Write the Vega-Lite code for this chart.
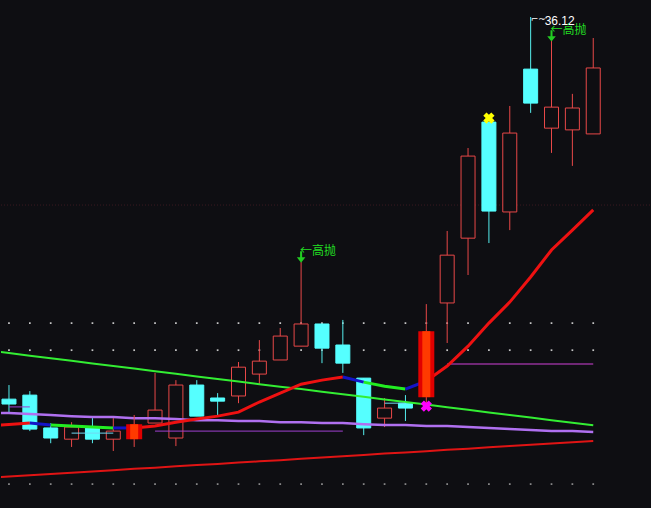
{
  "$schema": "https://vega.github.io/schema/vega-lite/v6.json",
  "width": 651,
  "height": 508,
  "autosize": {"type": "fit", "contains": "padding"},
  "padding": 0,
  "background": "#0e0e12",
  "config": {"view": {"stroke": null}},
  "resolve": {"scale": {"color": "independent", "fill": "independent", "stroke": "independent"}},
  "datasets": {
    "candles": [
      {"i": 0, "o": 22.85, "h": 23.34, "l": 22.37, "c": 22.68, "k": "down"},
      {"i": 1, "o": 22.99, "h": 23.13, "l": 21.74, "c": 21.81, "k": "down"},
      {"i": 2, "o": 21.85, "h": 22.02, "l": 21.32, "c": 21.50, "k": "down"},
      {"i": 3, "o": 21.46, "h": 22.05, "l": 21.19, "c": 21.88, "k": "up"},
      {"i": 4, "o": 21.85, "h": 22.19, "l": 21.32, "c": 21.46, "k": "down"},
      {"i": 5, "o": 21.46, "h": 22.19, "l": 21.05, "c": 21.74, "k": "up"},
      {"i": 6, "o": 21.46, "h": 22.30, "l": 21.19, "c": 21.98, "k": "solid"},
      {"i": 7, "o": 22.02, "h": 23.76, "l": 22.02, "c": 22.47, "k": "up"},
      {"i": 8, "o": 21.50, "h": 23.51, "l": 21.22, "c": 23.34, "k": "up"},
      {"i": 9, "o": 23.34, "h": 23.51, "l": 22.26, "c": 22.26, "k": "down"},
      {"i": 10, "o": 22.89, "h": 23.06, "l": 22.23, "c": 22.78, "k": "down"},
      {"i": 11, "o": 22.96, "h": 24.14, "l": 22.71, "c": 23.96, "k": "up"},
      {"i": 12, "o": 23.72, "h": 24.90, "l": 23.34, "c": 24.17, "k": "up"},
      {"i": 13, "o": 24.21, "h": 25.32, "l": 24.21, "c": 25.04, "k": "up"},
      {"i": 14, "o": 24.69, "h": 27.61, "l": 24.69, "c": 25.46, "k": "up"},
      {"i": 15, "o": 25.46, "h": 25.46, "l": 24.10, "c": 24.62, "k": "down"},
      {"i": 16, "o": 24.73, "h": 25.60, "l": 23.76, "c": 24.10, "k": "down"},
      {"i": 17, "o": 23.58, "h": 23.58, "l": 21.60, "c": 21.85, "k": "down"},
      {"i": 18, "o": 22.19, "h": 22.89, "l": 21.88, "c": 22.54, "k": "up"},
      {"i": 19, "o": 22.71, "h": 22.99, "l": 22.09, "c": 22.54, "k": "down"},
      {"i": 20, "o": 22.92, "h": 26.15, "l": 22.58, "c": 25.21, "k": "solid"},
      {"i": 21, "o": 26.19, "h": 28.69, "l": 24.80, "c": 27.85, "k": "up"},
      {"i": 22, "o": 28.44, "h": 31.57, "l": 27.16, "c": 31.29, "k": "up"},
      {"i": 23, "o": 32.47, "h": 32.47, "l": 28.27, "c": 29.38, "k": "down"},
      {"i": 24, "o": 29.35, "h": 33.03, "l": 28.72, "c": 32.09, "k": "up"},
      {"i": 25, "o": 34.31, "h": 36.12, "l": 32.79, "c": 33.13, "k": "down"},
      {"i": 26, "o": 32.26, "h": 35.29, "l": 31.40, "c": 32.99, "k": "up"},
      {"i": 27, "o": 32.20, "h": 33.45, "l": 30.95, "c": 32.96, "k": "up"},
      {"i": 28, "o": 32.06, "h": 35.39, "l": 32.06, "c": 34.35, "k": "up"}
    ],
    "ma": [
      {"i": -1, "g": 24.54, "p": 22.37, "r": 20.12},
      {"i": 0, "g": 24.45, "p": 22.37, "r": 20.16},
      {"i": 1, "g": 24.36, "p": 22.33, "r": 20.21},
      {"i": 2, "g": 24.27, "p": 22.30, "r": 20.25},
      {"i": 3, "g": 24.18, "p": 22.26, "r": 20.29},
      {"i": 4, "g": 24.09, "p": 22.23, "r": 20.34},
      {"i": 5, "g": 24.00, "p": 22.23, "r": 20.38},
      {"i": 6, "g": 23.91, "p": 22.19, "r": 20.43},
      {"i": 7, "g": 23.82, "p": 22.19, "r": 20.47},
      {"i": 8, "g": 23.73, "p": 22.16, "r": 20.52},
      {"i": 9, "g": 23.64, "p": 22.12, "r": 20.56},
      {"i": 10, "g": 23.55, "p": 22.12, "r": 20.60},
      {"i": 11, "g": 23.46, "p": 22.09, "r": 20.65},
      {"i": 12, "g": 23.37, "p": 22.09, "r": 20.69},
      {"i": 13, "g": 23.28, "p": 22.05, "r": 20.73},
      {"i": 14, "g": 23.20, "p": 22.05, "r": 20.78},
      {"i": 15, "g": 23.11, "p": 22.02, "r": 20.82},
      {"i": 16, "g": 23.02, "p": 22.02, "r": 20.87},
      {"i": 17, "g": 22.93, "p": 21.98, "r": 20.91},
      {"i": 18, "g": 22.84, "p": 21.95, "r": 20.96},
      {"i": 19, "g": 22.75, "p": 21.95, "r": 21.00},
      {"i": 20, "g": 22.66, "p": 21.92, "r": 21.04},
      {"i": 21, "g": 22.57, "p": 21.92, "r": 21.09},
      {"i": 22, "g": 22.48, "p": 21.88, "r": 21.13},
      {"i": 23, "g": 22.39, "p": 21.85, "r": 21.18},
      {"i": 24, "g": 22.30, "p": 21.81, "r": 21.22},
      {"i": 25, "g": 22.21, "p": 21.78, "r": 21.27},
      {"i": 26, "g": 22.12, "p": 21.74, "r": 21.31},
      {"i": 27, "g": 22.03, "p": 21.74, "r": 21.35},
      {"i": 28, "g": 21.94, "p": 21.71, "r": 21.40}
    ],
    "ma5": [
      {"i": -1, "v": 21.92, "seg": 1, "t": "up"},
      {"i": 0, "v": 21.97, "seg": 1, "t": "up"},
      {"i": 1, "v": 22.02, "seg": 1, "t": "up"},
      {"i": 1, "v": 22.02, "seg": 2, "t": "flat"},
      {"i": 2, "v": 21.95, "seg": 2, "t": "flat"},
      {"i": 2, "v": 21.95, "seg": 3, "t": "down"},
      {"i": 3, "v": 21.92, "seg": 3, "t": "down"},
      {"i": 4, "v": 21.88, "seg": 3, "t": "down"},
      {"i": 5, "v": 21.85, "seg": 3, "t": "down"},
      {"i": 5, "v": 21.85, "seg": 4, "t": "flat"},
      {"i": 6, "v": 21.85, "seg": 4, "t": "flat"},
      {"i": 6, "v": 21.85, "seg": 5, "t": "up"},
      {"i": 7, "v": 21.92, "seg": 5, "t": "up"},
      {"i": 8, "v": 22.05, "seg": 5, "t": "up"},
      {"i": 9, "v": 22.16, "seg": 5, "t": "up"},
      {"i": 10, "v": 22.26, "seg": 5, "t": "up"},
      {"i": 11, "v": 22.40, "seg": 5, "t": "up"},
      {"i": 12, "v": 22.75, "seg": 5, "t": "up"},
      {"i": 13, "v": 23.06, "seg": 5, "t": "up"},
      {"i": 14, "v": 23.37, "seg": 5, "t": "up"},
      {"i": 15, "v": 23.51, "seg": 5, "t": "up"},
      {"i": 16, "v": 23.62, "seg": 5, "t": "up"},
      {"i": 16, "v": 23.62, "seg": 6, "t": "flat"},
      {"i": 17, "v": 23.44, "seg": 6, "t": "flat"},
      {"i": 17, "v": 23.44, "seg": 7, "t": "down"},
      {"i": 18, "v": 23.30, "seg": 7, "t": "down"},
      {"i": 19, "v": 23.20, "seg": 7, "t": "down"},
      {"i": 19, "v": 23.20, "seg": 8, "t": "flat"},
      {"i": 20, "v": 23.48, "seg": 8, "t": "flat"},
      {"i": 20, "v": 23.48, "seg": 9, "t": "up"},
      {"i": 21, "v": 24.00, "seg": 9, "t": "up"},
      {"i": 22, "v": 24.69, "seg": 9, "t": "up"},
      {"i": 23, "v": 25.49, "seg": 9, "t": "up"},
      {"i": 24, "v": 26.22, "seg": 9, "t": "up"},
      {"i": 25, "v": 27.09, "seg": 9, "t": "up"},
      {"i": 26, "v": 28.03, "seg": 9, "t": "up"},
      {"i": 27, "v": 28.72, "seg": 9, "t": "up"},
      {"i": 28, "v": 29.42, "seg": 9, "t": "up"}
    ],
    "hlines": [
      {"a": 0, "b": 1, "v": 22.58, "k": "violet"},
      {"a": 7, "b": 16, "v": 21.74, "k": "violet"},
      {"a": 3, "b": 5, "v": 21.67, "k": "cyan"},
      {"a": 18, "b": 19, "v": 22.71, "k": "cyan"},
      {"a": 21, "b": 28, "v": 24.07, "k": "magenta"}
    ],
    "signals": [
      {"i": 14, "h": 27.61, "label": "←高抛"},
      {"i": 26, "h": 35.29, "label": "←高抛"}
    ],
    "peak": [{"i": 25, "h": 36.12, "label": "36.12"}],
    "crosses": [
      {"i": 23, "v": 32.61, "k": "sell"},
      {"i": 20, "v": 22.61, "k": "buy"}
    ]
  },
  "encoding": {
    "x": {"field": "i", "type": "quantitative", "scale": {"domain": [-0.382, 30.72], "nice": false, "zero": false, "padding": 0}, "axis": null}
  },
  "layer": [
    {
      "data": {"name": "candles"},
      "mark": {"type": "point", "shape": "square", "filled": true, "size": 3, "color": "#d8d8d8", "opacity": 0.9},
      "encoding": {"y": {"datum": 25.49, "type": "quantitative", "scale": {"domain": [19.07, 36.71], "nice": false, "zero": false}, "axis": null}}
    },
    {
      "data": {"name": "candles"},
      "mark": {"type": "point", "shape": "square", "filled": true, "size": 3, "color": "#d8d8d8", "opacity": 0.9},
      "encoding": {"y": {"datum": 24.55, "type": "quantitative", "scale": {"domain": [19.07, 36.71], "nice": false, "zero": false}, "axis": null}}
    },
    {
      "data": {"name": "candles"},
      "mark": {"type": "point", "shape": "square", "filled": true, "size": 3, "color": "#aaaaaa", "opacity": 0.8},
      "encoding": {"y": {"datum": 19.90, "type": "quantitative", "scale": {"domain": [19.07, 36.71], "nice": false, "zero": false}, "axis": null}}
    },
    {
      "data": {"values": [{"level": 29.59}]},
      "mark": {"type": "rule", "color": "#3a1a20", "strokeWidth": 1, "strokeDash": [1, 2]},
      "encoding": {"x": null, "y": {"field": "level", "type": "quantitative", "scale": {"domain": [19.07, 36.71], "nice": false, "zero": false}, "axis": null}}
    },
    {
      "data": {"name": "candles"},
      "transform": [{"filter": "datum.k !== 'solid'"}],
      "mark": {"type": "rule", "strokeWidth": 1},
      "encoding": {
        "y": {"field": "l", "type": "quantitative", "scale": {"domain": [19.07, 36.71], "nice": false, "zero": false}, "axis": null},
        "y2": {"field": "h"},
        "color": {"field": "k", "type": "nominal", "scale": {"domain": ["up", "down", "solid"], "range": ["#e84848", "#55eeee", "#e84848"]}, "legend": null}
      }
    },
    {
      "data": {"name": "candles"},
      "transform": [{"filter": "datum.k !== 'solid'"}],
      "mark": {"type": "bar", "size": 14, "strokeWidth": 1},
      "encoding": {
        "y": {"field": "o", "type": "quantitative", "scale": {"domain": [19.07, 36.71], "nice": false, "zero": false}, "axis": null},
        "y2": {"field": "c"},
        "fill": {"field": "k", "type": "nominal", "scale": {"domain": ["up", "down", "solid"], "range": ["#0e0e12", "#55ffff", "#ff2a00"]}, "legend": null},
        "stroke": {"field": "k", "type": "nominal", "scale": {"domain": ["up", "down", "solid"], "range": ["#e84848", "#55ffff", "#e00000"]}, "legend": null}
      }
    },
    {
      "data": {"name": "ma"},
      "mark": {"type": "line", "color": "#b070f0", "strokeWidth": 2.5, "clip": true},
      "encoding": {"y": {"field": "p", "type": "quantitative", "scale": {"domain": [19.07, 36.71], "nice": false, "zero": false}, "axis": null}}
    },
    {
      "data": {"name": "ma"},
      "mark": {"type": "line", "color": "#33ee33", "strokeWidth": 2, "clip": true},
      "encoding": {"y": {"field": "g", "type": "quantitative", "scale": {"domain": [19.07, 36.71], "nice": false, "zero": false}, "axis": null}}
    },
    {
      "data": {"name": "ma"},
      "mark": {"type": "line", "color": "#e01414", "strokeWidth": 2, "clip": true},
      "encoding": {"y": {"field": "r", "type": "quantitative", "scale": {"domain": [19.07, 36.71], "nice": false, "zero": false}, "axis": null}}
    },
    {
      "data": {"name": "hlines"},
      "mark": {"type": "rule", "strokeWidth": 1},
      "encoding": {
        "x": {"field": "a", "type": "quantitative", "scale": {"domain": [-0.382, 30.72], "nice": false, "zero": false, "padding": 0}, "axis": null},
        "x2": {"field": "b"},
        "y": {"field": "v", "type": "quantitative", "scale": {"domain": [19.07, 36.71], "nice": false, "zero": false}, "axis": null},
        "color": {"field": "k", "type": "nominal", "scale": {"domain": ["violet", "cyan", "magenta"], "range": ["#a040d0", "#70d8f0", "#d040d8"]}, "legend": null}
      }
    },
    {
      "data": {"name": "ma5"},
      "mark": {"type": "line", "strokeWidth": 3, "clip": true},
      "encoding": {
        "y": {"field": "v", "type": "quantitative", "scale": {"domain": [19.07, 36.71], "nice": false, "zero": false}, "axis": null},
        "detail": {"field": "seg", "type": "nominal"},
        "color": {"field": "t", "type": "nominal", "scale": {"domain": ["up", "flat", "down"], "range": ["#ee1111", "#1414c8", "#22ee22"]}, "legend": null}
      }
    },
    {
      "data": {"name": "candles"},
      "transform": [{"filter": "datum.k === 'solid'"}],
      "mark": {"type": "rule", "strokeWidth": 1, "color": "#e84848"},
      "encoding": {
        "y": {"field": "l", "type": "quantitative", "scale": {"domain": [19.07, 36.71], "nice": false, "zero": false}, "axis": null},
        "y2": {"field": "h"}
      }
    },
    {
      "data": {"name": "candles"},
      "transform": [{"filter": "datum.k === 'solid'"}],
      "mark": {"type": "bar", "size": 16, "fill": "#e00000"},
      "encoding": {
        "y": {"field": "o", "type": "quantitative", "scale": {"domain": [19.07, 36.71], "nice": false, "zero": false}, "axis": null},
        "y2": {"field": "c"}
      }
    },
    {
      "data": {"name": "candles"},
      "transform": [{"filter": "datum.k === 'solid'"}],
      "mark": {"type": "bar", "size": 8, "fill": "#ff3a00"},
      "encoding": {
        "y": {"field": "o", "type": "quantitative", "scale": {"domain": [19.07, 36.71], "nice": false, "zero": false}, "axis": null},
        "y2": {"field": "c"}
      }
    },
    {
      "data": {"name": "crosses"},
      "mark": {"type": "point", "shape": "cross", "angle": 45, "filled": true, "size": 130, "strokeWidth": 0, "opacity": 1},
      "encoding": {
        "y": {"field": "v", "type": "quantitative", "scale": {"domain": [19.07, 36.71], "nice": false, "zero": false}, "axis": null},
        "color": {"field": "k", "type": "nominal", "scale": {"domain": ["sell", "buy"], "range": ["#ffff00", "#ff00ff"]}, "legend": null}
      }
    },
    {
      "data": {"name": "signals"},
      "mark": {"type": "point", "shape": "M-0.18,-1L0.18,-1L0.18,0.05L0.75,0.05L0,1L-0.75,0.05L-0.18,0.05Z", "filled": true, "size": 130, "color": "#22cc22", "strokeWidth": 0, "opacity": 1, "yOffset": -5},
      "encoding": {"y": {"field": "h", "type": "quantitative", "scale": {"domain": [19.07, 36.71], "nice": false, "zero": false}, "axis": null}}
    },
    {
      "data": {"name": "signals"},
      "mark": {"type": "text", "align": "left", "baseline": "middle", "dx": -1, "dy": -11, "font": "Noto Sans CJK SC", "fontSize": 12, "color": "#22dd22"},
      "encoding": {
        "y": {"field": "h", "type": "quantitative", "scale": {"domain": [19.07, 36.71], "nice": false, "zero": false}, "axis": null},
        "text": {"field": "label"}
      }
    },
    {
      "data": {"name": "peak"},
      "mark": {"type": "text", "align": "left", "baseline": "middle", "dx": 14, "dy": 4, "font": "Liberation Sans", "fontSize": 12, "color": "#ffffff"},
      "encoding": {
        "y": {"field": "h", "type": "quantitative", "scale": {"domain": [19.07, 36.71], "nice": false, "zero": false}, "axis": null},
        "text": {"field": "label"}
      }
    },
    {
      "data": {"name": "peak"},
      "mark": {"type": "text", "align": "left", "baseline": "middle", "dx": 0, "dy": 2, "font": "DejaVu Sans", "fontSize": 9, "color": "#ffffff", "text": "⌐~"},
      "encoding": {
        "y": {"field": "h", "type": "quantitative", "scale": {"domain": [19.07, 36.71], "nice": false, "zero": false}, "axis": null}
      }
    }
  ]
}
